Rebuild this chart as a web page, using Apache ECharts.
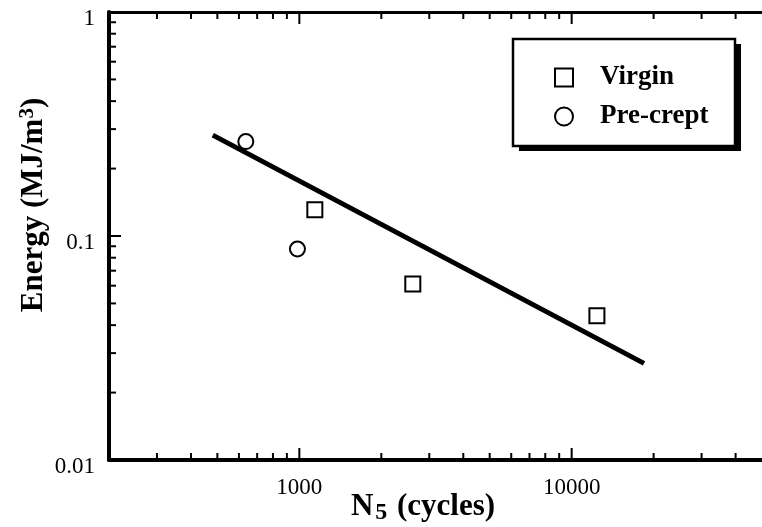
<!DOCTYPE html>
<html>
<head>
<meta charset="utf-8">
<script src="https://cdn.jsdelivr.net/npm/echarts@6/dist/echarts.min.js"></script>
<style>
html,body{margin:0;padding:0;background:#fff;}
#chart{width:762px;height:527px;}
</style>
</head>
<body>
<div id="chart"></div>
<script>
// ---- data ----
var virgin = [[1140, 0.131], [2610, 0.061], [12380, 0.044]];
var precrept = [[636, 0.264], [984, 0.0875]];
var fitLine = [[481, 0.282], [18440, 0.027]];

var xRange = [200, 50000];
var yRange = [0.01, 1];
var xTickLabels = [1000, 10000];
var yTickLabels = ['0.01', '0.1', '1'];
var xMajorTicks = [1000, 10000];
var xMinorTicks = [300, 400, 500, 600, 700, 800, 900, 2000, 3000, 4000, 5000, 6000, 7000, 8000, 9000, 20000, 30000, 40000];
var yMajorTicks = [0.1];
var yMinorTicks = [0.02, 0.03, 0.04, 0.05, 0.06, 0.07, 0.08, 0.09, 0.2, 0.3, 0.4, 0.5, 0.6, 0.7, 0.8, 0.9];

// ---- tick data for custom series ----
var tickData = [];
xMajorTicks.forEach(function (v) { tickData.push([v, yRange[0], 12, 0]); tickData.push([v, yRange[1], 12, 1]); });
xMinorTicks.forEach(function (v) { tickData.push([v, yRange[0], 7, 0]); tickData.push([v, yRange[1], 7, 1]); });
yMajorTicks.forEach(function (v) { tickData.push([xRange[0], v, 12, 2]); });
yMinorTicks.forEach(function (v) { tickData.push([xRange[0], v, 7, 2]); });

var serif = 'Liberation Serif, Times New Roman, serif';
var chart = echarts.init(document.getElementById('chart'), null, {renderer: 'canvas'});

function nearIn(list, v) {
  for (var i = 0; i < list.length; i++) {
    if (Math.abs(Math.log10(list[i]) - Math.log10(v)) < 1e-6) return list[i];
  }
  return null;
}

chart.setOption({
  backgroundColor: '#fff',
  animation: false,
  grid: {left: 109, top: 12, width: 662, height: 448},
  xAxis: [{
    type: 'log', logBase: 10, min: xRange[0], max: xRange[1],
    position: 'bottom',
    axisLine: {lineStyle: {color: '#000', width: 4}},
    axisTick: {show: false},
    splitLine: {show: false},
    axisLabel: {
      margin: 16, color: '#000', fontFamily: serif, fontSize: 23,
      showMinLabel: false, showMaxLabel: false,
      formatter: function (v) { var m = nearIn(xTickLabels, v); return m === null ? '' : String(m); }
    }
  }, {
    type: 'log', logBase: 10, min: xRange[0], max: xRange[1],
    position: 'top',
    axisLine: {lineStyle: {color: '#000', width: 3}},
    axisTick: {show: false}, axisLabel: {show: false}, splitLine: {show: false}
  }],
  yAxis: [{
    type: 'log', logBase: 10, min: yRange[0], max: yRange[1],
    axisLine: {lineStyle: {color: '#000', width: 4}},
    axisTick: {show: false},
    splitLine: {show: false},
    axisLabel: {
      margin: 14, color: '#000', fontFamily: serif, fontSize: 23,
      formatter: function (v) {
        var vals = yTickLabels.map(Number);
        var m = nearIn(vals, v);
        return m === null ? '' : '{a|' + yTickLabels[vals.indexOf(m)] + '}';
      },
      rich: {a: {fontFamily: serif, fontSize: 23, color: '#000', padding: [14, 0, 0, 0]}}
    }
  }],
  legend: {
    orient: 'vertical', left: 549, top: 59, itemGap: 12,
    itemWidth: 18, itemHeight: 18,
    data: ['Virgin', 'Pre-crept'],
    textStyle: {color: '#000', fontFamily: serif, fontSize: 27, fontWeight: 'bold', padding: [4, 0, 0, 22]},
    z: 10
  },
  graphic: [{
    type: 'rect', z: 5, silent: true,
    shape: {x: 519, y: 44, width: 222, height: 107},
    style: {fill: '#000'}
  }, {
    type: 'rect', z: 6, silent: true,
    shape: {x: 513, y: 39, width: 222, height: 107},
    style: {fill: '#fff', stroke: '#000', lineWidth: 2.5}
  }, {
    type: 'text', z: 5, silent: true,
    x: 34, y: 205, rotation: Math.PI / 2,
    style: {
      text: 'Energy (MJ/m{sup|3})',
      fill: '#000', font: 'bold 31px ' + serif,
      align: 'center', verticalAlign: 'middle',
      rich: {sup: {fontSize: 21, fontWeight: 'bold', fontFamily: serif, fill: '#000', padding: [0, 0, 13, 0]}}
    }
  }, {
    type: 'text', z: 5, silent: true,
    x: 423, y: 507,
    style: {
      text: 'N{sub|5} (cycles)',
      fill: '#000', font: 'bold 31px ' + serif,
      align: 'center', verticalAlign: 'middle',
      rich: {sub: {fontSize: 24, fontWeight: 'bold', fontFamily: serif, fill: '#000', padding: [12, 2, 0, 2]}}
    }
  }],
  series: [{
    name: 'fit', type: 'line', data: fitLine, symbol: 'none',
    lineStyle: {color: '#000', width: 5}, silent: true, z: 2
  }, {
    name: 'Virgin', type: 'scatter', data: virgin, symbol: 'rect', symbolSize: 15,
    itemStyle: {color: '#fff', borderColor: '#000', borderWidth: 2, opacity: 1}, z: 3
  }, {
    name: 'Pre-crept', type: 'scatter', data: precrept, symbol: 'circle', symbolSize: 15,
    itemStyle: {color: '#fff', borderColor: '#000', borderWidth: 2, opacity: 1}, z: 3
  }, {
    name: 'ticks', type: 'custom', silent: true, clip: false, z: 4,
    data: tickData,
    renderItem: function (params, api) {
      var p = api.coord([api.value(0), api.value(1)]);
      var len = api.value(2), dir = api.value(3);
      var x2 = p[0], y2 = p[1];
      if (dir === 0) y2 = p[1] - len;
      else if (dir === 1) y2 = p[1] + len;
      else x2 = p[0] + len;
      return {type: 'line', shape: {x1: p[0], y1: p[1], x2: x2, y2: y2}, style: {stroke: '#000', lineWidth: 2}};
    }
  }]
});
</script>
</body>
</html>
